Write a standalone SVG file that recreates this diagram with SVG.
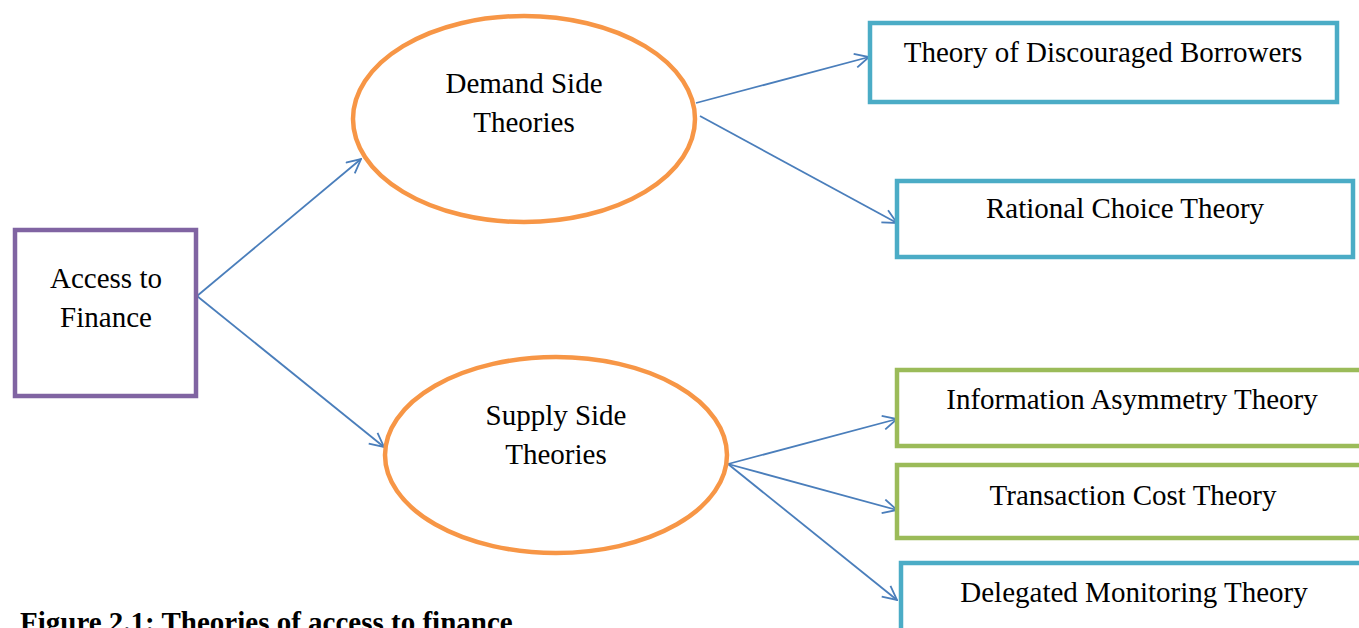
<svg xmlns="http://www.w3.org/2000/svg" width="1359" height="628" viewBox="0 0 1359 628">
<defs>
<style>
.t{font-family:"Liberation Serif","Times New Roman",serif;font-size:29px;fill:#000;text-anchor:middle}
.cap{font-family:"Liberation Serif","Times New Roman",serif;font-size:29px;font-weight:bold;fill:#000}
.ell{fill:#fff;stroke:#F79646;stroke-width:4.5}
.blue{fill:#fff;stroke:#4BACC6;stroke-width:4.5}
.green{fill:#fff;stroke:#9BBB59;stroke-width:4.5}
.purple{fill:#fff;stroke:#8064A2;stroke-width:4.5}
.c{stroke:#4A7EBB;stroke-width:1.8;fill:none;marker-end:url(#a)}
</style>
<marker id="a" viewBox="0 0 16 16" refX="15" refY="8" markerWidth="16" markerHeight="16" markerUnits="userSpaceOnUse" orient="auto">
<path d="M1,1 L15,8 L1,15" fill="none" stroke="#4A7EBB" stroke-width="1.8"/>
</marker>
</defs>
<rect width="1359" height="628" fill="#fff"/>
<g id="connectors">
<line class="c" x1="197" y1="296" x2="361" y2="159"/>
<line class="c" x1="197" y1="296" x2="384" y2="447"/>
<line class="c" x1="696" y1="103" x2="869" y2="57"/>
<line class="c" x1="700" y1="116" x2="897" y2="223"/>
<line class="c" x1="728" y1="464" x2="897" y2="419"/>
<line class="c" x1="728" y1="464" x2="897" y2="510"/>
<line class="c" x1="728" y1="464" x2="897" y2="600"/>
</g>
<g id="access">
<rect class="purple" x="15" y="230" width="181" height="166"/>
<text class="t" x="106" y="288">Access to</text>
<text class="t" x="106" y="327">Finance</text>
</g>
<g id="demand">
<ellipse class="ell" cx="524" cy="119" rx="171" ry="103"/>
<text class="t" x="524" y="93">Demand Side</text>
<text class="t" x="524" y="132">Theories</text>
</g>
<g id="supply">
<ellipse class="ell" cx="556" cy="455" rx="171" ry="98"/>
<text class="t" x="556" y="425">Supply Side</text>
<text class="t" x="556" y="464">Theories</text>
</g>
<g id="discouraged">
<rect class="blue" x="870" y="23" width="467" height="79"/>
<text class="t" x="1103" y="62">Theory of Discouraged Borrowers</text>
</g>
<g id="rational">
<rect class="blue" x="897" y="181" width="456" height="76"/>
<text class="t" x="1125" y="218">Rational Choice Theory</text>
</g>
<g id="information">
<rect class="green" x="897" y="370" width="480" height="76"/>
<text class="t" x="1132" y="409">Information Asymmetry Theory</text>
</g>
<g id="transaction">
<rect class="green" x="897" y="465" width="480" height="73"/>
<text class="t" x="1133" y="505">Transaction Cost Theory</text>
</g>
<g id="delegated">
<rect class="blue" x="901" y="563" width="480" height="80"/>
<text class="t" x="1134" y="602">Delegated Monitoring Theory</text>
</g>
<text class="cap" x="20" y="632">Figure 2.1: Theories of access to finance</text>
</svg>
